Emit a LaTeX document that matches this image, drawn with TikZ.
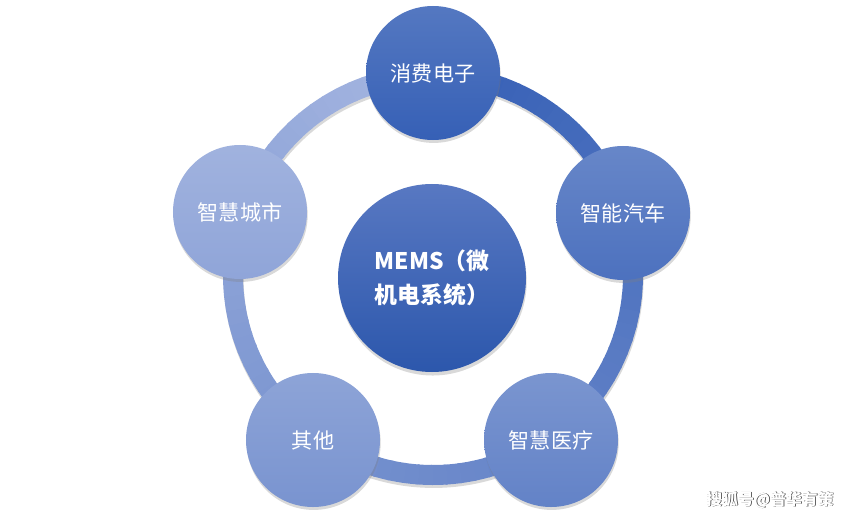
\documentclass[tikz,border=0pt]{standalone}
\usepackage{fontspec}
\newfontfamily\cjk{Noto Sans CJK SC}
\usetikzlibrary{shadows}
\definecolor{darkblue}{HTML}{3660B6}
\definecolor{lightblue}{HTML}{A6B6E1}
\definecolor{coretop}{HTML}{5878C2}
\definecolor{corebottom}{HTML}{2C57AC}
\tikzset{
  field/.style={circle, minimum size=4.02cm, inner sep=0pt, text=white,
    font=\cjk\fontsize{18}{21}\selectfont,
    top color=#1!85!white, bottom color=#1,
    drop shadow={shadow xshift=0.6pt, shadow yshift=-2.5pt, opacity=0.3}},
  ringpart/.style={line width=0.6cm, line cap=butt}
}
\begin{document}
\begin{tikzpicture}[x=0.03cm, y=0.03cm]
	\useasboundingbox (0,0) rectangle (865,521);
	\coordinate (hub) at (433,246);
	
	\draw[line width=0.6cm, black, opacity=0.15] ([xshift=0.5pt, yshift=-2.5pt]hub) circle[radius=6cm];
	\foreach \i in {0,...,89} {
		\pgfmathtruncatemacro\p{100*\i/89}
		\draw[ringpart, lightblue!\p!darkblue] (hub) ++({90-4*\i}:6cm) arc[start angle={90-4*\i}, end angle={90-4*\i-4.6}, radius=6cm];
	}
	
	\node[field=darkblue] (consumer) at (433,448) {消费电子};
	\node[field=lightblue!20!darkblue] (auto) at (623,308) {智能汽车};
	\node[field=lightblue!40!darkblue] (medical) at (551,81) {智慧医疗};
	\node[field=lightblue!60!darkblue] (other) at (313,81) {其他};
	\node[field=lightblue!80!darkblue] (city) at (240,309) {智慧城市};
	
	\node[circle, minimum size=5.64cm, inner sep=0pt, text=white, align=left, top color=coretop, bottom color=corebottom,
		font=\cjk\bfseries\fontsize{19.5}{29}\selectfont,
		drop shadow={shadow xshift=0.6pt, shadow yshift=-3pt, opacity=0.3}] (mems) at (432,243) {MEMS（微\\机电系统）};
	
	\node[text=black!80, font=\cjk\bfseries\fontsize{13.5}{16}\selectfont] (markshadow) at (770.7,20.3) {搜狐号@普华有策};
	\node[text=white, font=\cjk\bfseries\fontsize{13.5}{16}\selectfont] (mark) at (770,21) {搜狐号@普华有策};
\end{tikzpicture}
\end{document}
